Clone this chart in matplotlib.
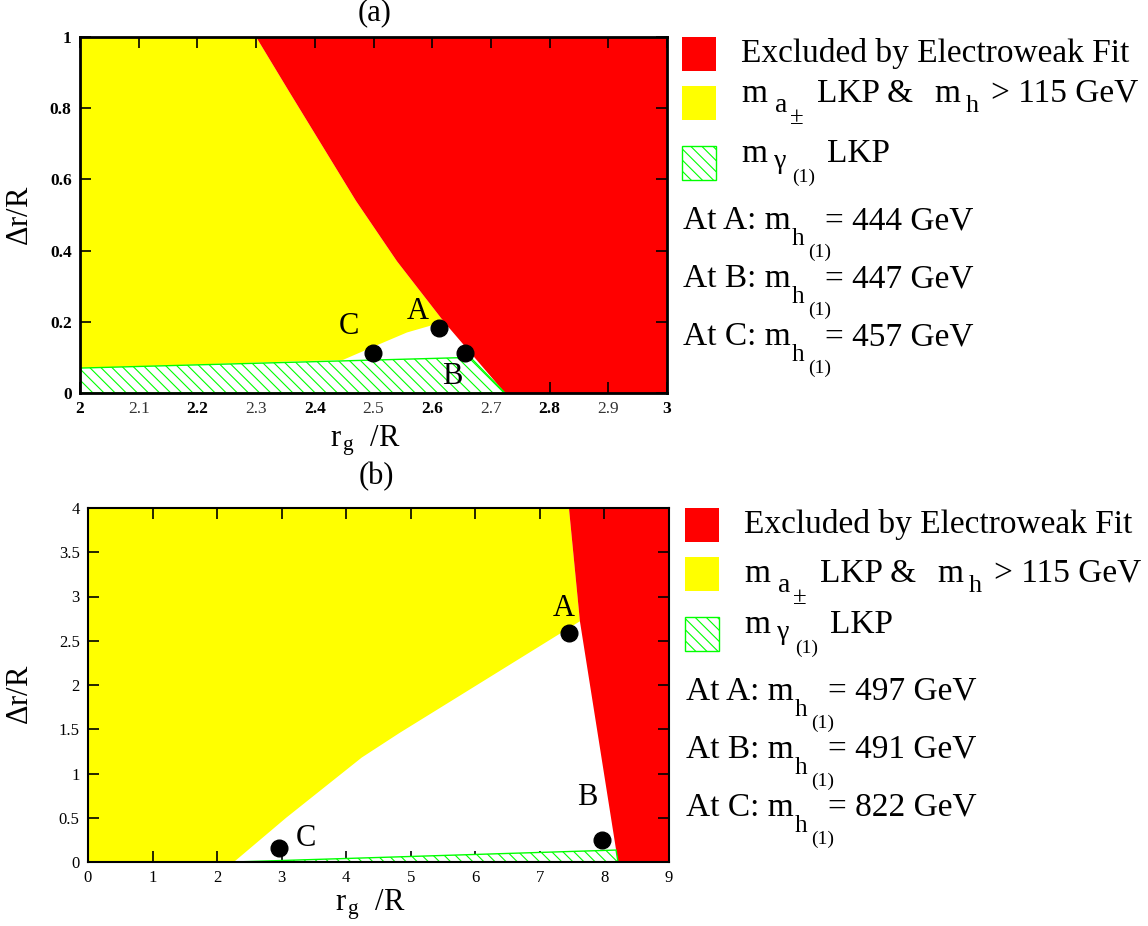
import matplotlib
matplotlib.use("Agg")
import matplotlib.pyplot as plt
from matplotlib.patches import Rectangle

plt.rcParams['font.family'] = ['Liberation Serif', 'DejaVu Serif']
plt.rcParams['mathtext.fontset'] = 'custom'
plt.rcParams['mathtext.rm'] = 'Liberation Serif'
plt.rcParams['mathtext.it'] = 'Liberation Serif:italic'
plt.rcParams['hatch.linewidth'] = 0.8

RED = '#ff0000'
YELLOW = '#ffff00'
GREEN = '#00ff00'
HATCH = '\\\\\\'

# ---- panel (a) data ----
a_red_x = [2.30, 2.355, 2.47, 2.54, 2.62, 2.724, 3.0, 3.0]
a_red_y = [1.0, 0.85, 0.54, 0.37, 0.20, 0.0, 0.0, 1.0]
a_yellow_x = [2.0, 2.30, 2.355, 2.47, 2.54, 2.62, 2.557, 2.50, 2.448, 2.0]
a_yellow_y = [1.0, 1.0, 0.85, 0.54, 0.37, 0.20, 0.17, 0.13, 0.093, 0.07]
a_hatch_x = [2.0, 2.0, 2.665, 2.724]
a_hatch_y = [0.0, 0.07, 0.10, 0.0]
a_pts_x = [2.611, 2.656, 2.499]
a_pts_y = [0.183, 0.112, 0.112]
a_lbl_x = [2.576, 2.634, 2.458]
a_lbl_y = [0.228, 0.045, 0.186]
a_masses = [444, 447, 457]

# ---- panel (b) data ----
b_red_x = [7.45, 7.62, 8.21, 9.0, 9.0]
b_red_y = [4.0, 2.72, 0.0, 0.0, 4.0]
b_yellow_x = [0.0, 7.45, 7.62, 5.65, 4.83, 4.24, 3.07, 2.26, 0.0]
b_yellow_y = [4.0, 4.0, 2.72, 1.83, 1.46, 1.18, 0.50, 0.0, 0.0]
b_hatch_x = [2.26, 8.18, 8.21]
b_hatch_y = [0.0, 0.135, 0.0]
b_pts_x = [7.45, 7.96, 2.96]
b_pts_y = [2.59, 0.25, 0.16]
b_lbl_x = [7.37, 7.74, 3.38]
b_lbl_y = [2.87, 0.73, 0.27]
b_masses = [497, 491, 822]

point_names = ['A', 'B', 'C']

fig = plt.figure(figsize=(11.48, 9.26), dpi=100)
W, H = 1148.0, 926.0

def fx(px):
    return px / W

def fy(py):
    return 1 - py / H

def draw_panel(ax, rx, ry, yx, yy, hx, hy, px, py, lx, ly):
    ax.fill(yx, yy, color=YELLOW, lw=0, zorder=1)
    ax.fill(rx, ry, color=RED, lw=0, zorder=1)
    ax.fill(hx, hy, facecolor='white', edgecolor=GREEN, hatch=HATCH, lw=1, zorder=2)
    ax.plot(px, py, 'o', color='black', ms=12, zorder=4, clip_on=False)
    for name, x, y in zip(point_names, lx, ly):
        ax.text(x, y, name, fontsize=22, ha='center', va='center', zorder=5)
    ax.tick_params(direction='in', top=True, right=True, length=8, width=1.2)

# panel (a)
ax1 = fig.add_axes([fx(80), fy(393), 587 / W, 356 / H])
draw_panel(ax1, a_red_x, a_red_y, a_yellow_x, a_yellow_y, a_hatch_x, a_hatch_y,
           a_pts_x, a_pts_y, a_lbl_x, a_lbl_y)
ax1.set_xlim(2, 3)
ax1.set_ylim(0, 1)
xt = [2 + 0.1 * i for i in range(11)]
ax1.set_xticks(xt)
ax1.set_xticklabels(['2', '2.1', '2.2', '2.3', '2.4', '2.5', '2.6', '2.7', '2.8', '2.9', '3'])
for i, t in enumerate(ax1.get_xticklabels()):
    if i % 2 == 0:
        t.set_fontweight('bold')
        t.set_color('black')
    else:
        t.set_color('#333333')
    t.set_fontsize(12.5)
ax1.set_yticks([0, 0.2, 0.4, 0.6, 0.8, 1.0])
ax1.set_yticklabels(['0', '0.2', '0.4', '0.6', '0.8', '1'], fontweight='bold', fontsize=12.5)
ax1.tick_params(pad=6)
for s in ax1.spines.values():
    s.set_linewidth(2)

# panel (b)
ax2 = fig.add_axes([fx(88), fy(862), 581 / W, 354 / H])
draw_panel(ax2, b_red_x, b_red_y, b_yellow_x, b_yellow_y, b_hatch_x, b_hatch_y,
           b_pts_x, b_pts_y, b_lbl_x, b_lbl_y)
ax2.set_xlim(0, 9)
ax2.set_ylim(0, 4)
ax2.set_xticks(range(10))
ax2.set_yticks([0, 0.5, 1, 1.5, 2, 2.5, 3, 3.5, 4])
ax2.set_yticklabels(['0', '0.5', '1', '1.5', '2', '2.5', '3', '3.5', '4'])
ax2.tick_params(labelsize=12, pad=6)
for s in ax2.spines.values():
    s.set_linewidth(1.5)

# titles and axis labels
fig.text(fx(375), fy(20), '(a)', fontsize=22, ha='center', va='baseline')
fig.text(fx(376), fy(484), '(b)', fontsize=22, ha='center', va='baseline')
xlabel = r'$\mathrm{r}_{\,\mathrm{g}}$  /R'
fig.text(fx(365), fy(446), xlabel, fontsize=22, ha='center', va='baseline')
fig.text(fx(370), fy(910), xlabel, fontsize=22, ha='center', va='baseline')
fig.text(fx(21), fy(216), r'$\Delta$r/R', fontsize=22, rotation=90, ha='center', va='center')
fig.text(fx(20), fy(695), r'$\Delta$r/R', fontsize=22, rotation=90, ha='center', va='center')

# legends, built from pieces so the sub- and subsubscripts sit like the original
FS = 24

def put(px, py, s, size=FS):
    fig.text(fx(px), fy(py), s, fontsize=size, va='baseline', ha='left')

def legend_block(x0, top, line2, masses):
    sq = 34
    fig.add_artist(Rectangle((fx(x0), fy(top + sq)), sq / W, sq / H,
                             transform=fig.transFigure, facecolor=RED, edgecolor='none'))
    fig.add_artist(Rectangle((fx(x0), fy(top + 49 + sq)), sq / W, sq / H,
                             transform=fig.transFigure, facecolor=YELLOW, edgecolor='none'))
    fig.add_artist(Rectangle((fx(x0), fy(top + 109 + sq)), sq / W, sq / H,
                             transform=fig.transFigure, facecolor='white', edgecolor=GREEN,
                             hatch=HATCH, lw=1))
    put(x0 + 59, top + 25, 'Excluded by Electroweak Fit')
    b2 = top + line2
    put(x0 + 59, b2, 'm')
    put(x0 + 93, b2 + 10, 'a', 20)
    put(x0 + 108, b2 + 22, '\u00b1', 18)
    put(x0 + 135, b2, 'LKP &')
    put(x0 + 252, b2, 'm')
    put(x0 + 284, b2 + 10, 'h', 19)
    put(x0 + 309, b2, '> 115 GeV')
    b3 = top + 125
    put(x0 + 59, b3, 'm')
    put(x0 + 92, b3 + 6, '\u03b3', 20)
    put(x0 + 110, b3 + 20, '(1)', 14)
    put(x0 + 145, b3, 'LKP')
    for i, (name, m) in enumerate(zip(point_names, masses)):
        bb = top + 192 + 58 * i
        put(x0 + 1, bb, 'At %s: m' % name)
        put(x0 + 110, bb + 16, 'h', 18)
        put(x0 + 126, bb + 28, '(1)', 14)
        put(x0 + 143, bb, '= %d GeV' % m)

legend_block(682, 37, 65, a_masses)
legend_block(685, 508, 74, b_masses)

fig.savefig('out.png', dpi=100)
